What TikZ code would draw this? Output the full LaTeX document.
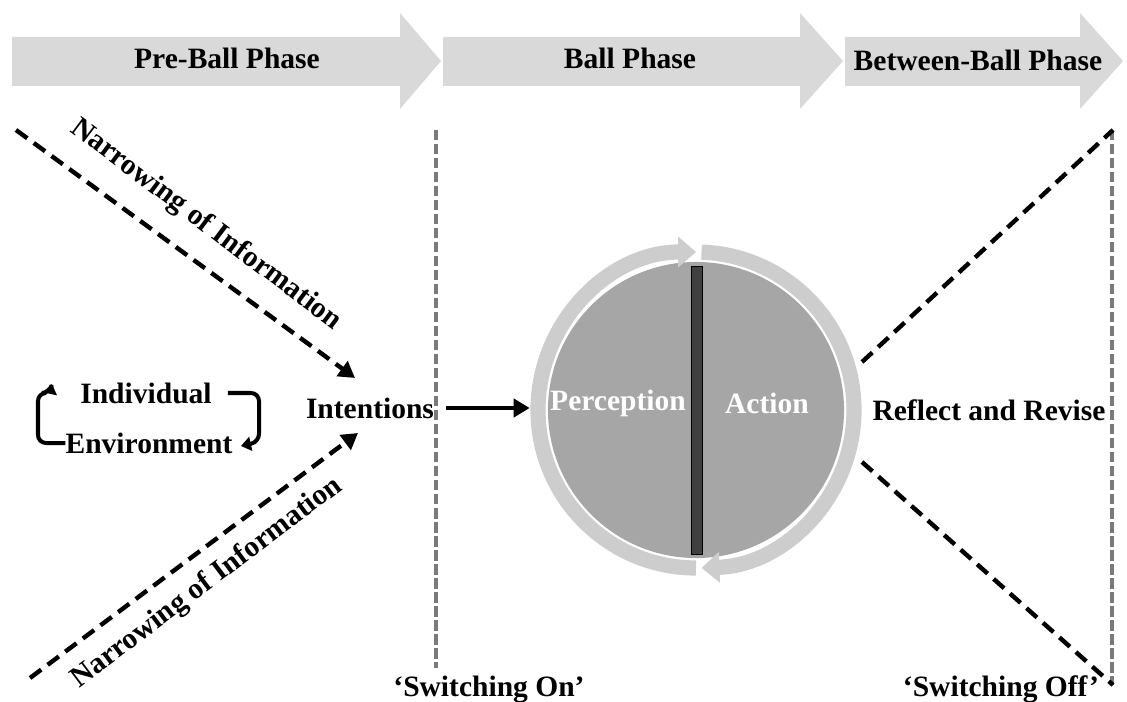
\documentclass[tikz,border=0pt]{standalone}
\usepackage{fontspec}
\setmainfont{Liberation Serif}
\usetikzlibrary{arrows.meta,calc}
\definecolor{phasegray}{HTML}{D9D9D9}
\definecolor{ringgray}{HTML}{CDCDCD}
\definecolor{innergray}{HTML}{A6A6A6}
\definecolor{guidegray}{HTML}{7A7A7A}
\tikzset{
	lbl/.style={font=\bfseries\fontsize{21}{25}\selectfont, inner sep=0pt},
	narrowline/.style={line width=1.1mm, dash pattern=on 3.5mm off 2mm},
	guideline/.style={line width=1mm, draw=guidegray, dash pattern=on 2.6mm off 0.9mm},
	tipline/.style={-{Triangle[length=4mm,width=4.5mm]}},
	loopline/.style={line width=1mm, rounded corners=2mm, -{Triangle[length=2.5mm,width=3.5mm]}},
	ringarrow/.style={line width=0.38cm, draw=ringgray, -{Triangle[length=0.45cm,width=0.75cm]}},
}
\def\phasearrow(#1,#2,#3){\fill[phasegray] (#1,37) -- (#2,37) -- (#2,13) -- (#3,61) -- (#2,109) -- (#2,86) -- (#1,86) -- cycle;}

\begin{document}
\begin{tikzpicture}[x=0.025cm, y=-0.025cm]
	\useasboundingbox (0,0) rectangle (1127,702);
	%%%%% START %%%%%
	\phasearrow(12,400,441)
	\phasearrow(443,800,843)
	\phasearrow(845,1080,1123)
	\node[lbl] (phpre) at (227,58) {Pre-Ball Phase};
	\node[lbl] (phball) at (630,58) {Ball Phase};
	\node[lbl] (phbetween) at (978,60) {Between-Ball Phase};
	
	\draw[guideline] (436,130) -- (436,668);
	\draw[guideline] (1112,130) -- (1112,685);
	
	\node[lbl] (indiv) at (146,393) {Individual};
	\node[lbl] (envir) at (149,443) {Environment};
	\draw[loopline] (envir.west) -- (38,443) -- (38,393) -- (50,393) -- (52,384);
	\draw[loopline] (indiv.east) ++(16,0) -- (259,393) -- (259,442) -- (241,446);
	
	\node[lbl] (intent) at (370,408) {Intentions};
	\coordinate (nltop) at (16,130);
	\coordinate (nlbot) at (30,678);
	\coordinate (inup) at (355,378);
	\coordinate (indn) at (358,433);
	\draw[narrowline, tipline] (nltop) -- (inup);
	\draw[narrowline, tipline] (nlbot) -- (indn);
	\node[lbl, rotate=-37] (nartop) at (206,225) {Narrowing of Information};
	\node[lbl, rotate=37] (narbot) at (207,583) {Narrowing of Information};
	
	% perception-action cycle
	\coordinate (c) at (696,410);
	\node[circle, fill=innergray, minimum size=7.4cm, inner sep=0pt] (pacircle) at (c) {};
	\draw[ringarrow] ($(c)+(90:158)$) arc (90:270:158);
	\draw[ringarrow] ($(c)+(-88:158)$) arc (-88:88:158);
	\draw[fill=black!75] (691,266) rectangle (702,554);
	\node[lbl, text=white] (percep) at (618,403) {Perception};
	\node[lbl, text=white] (action) at (767,403) {Action};
	\draw[line width=1mm, tipline] ([xshift=0.3cm]intent.east) -- ([xshift=-0.45cm]intent.east -| pacircle.west);
	
	\node[lbl] (reflect) at (989,410) {Reflect and Revise};
	\coordinate (rvtop) at (862,362);
	\coordinate (rvbot) at (862,462);
	\coordinate (offtop) at (1113,130);
	\coordinate (offbot) at (1113,685);
	\draw[narrowline] (rvtop) -- (offtop);
	\draw[narrowline] (rvbot) -- (offbot);
	
	\node[lbl, anchor=base] (swon) at (489,696) {‘Switching On’};
	\node[lbl, anchor=base] (swoff) at (1001,696) {‘Switching Off’};
	%%%%% END %%%%%
\end{tikzpicture}
\end{document}
